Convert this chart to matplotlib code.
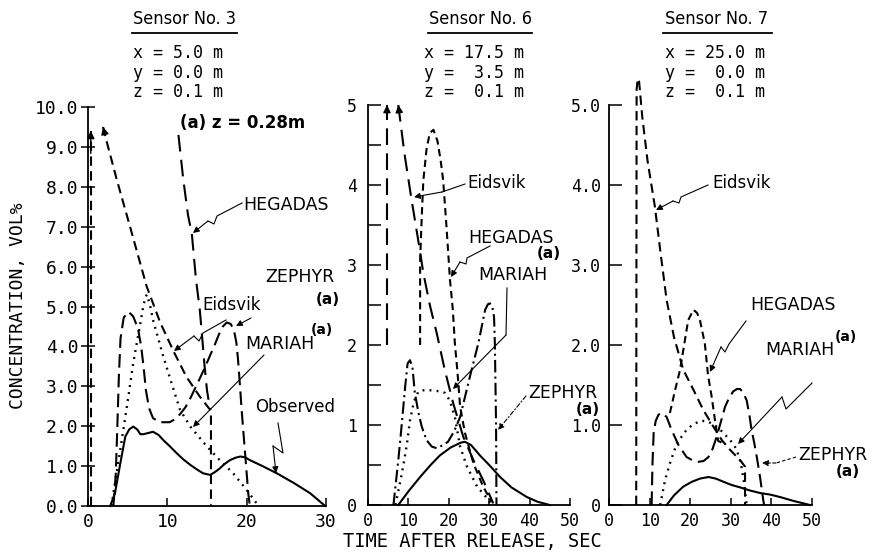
import matplotlib
matplotlib.use('Agg')
import matplotlib.pyplot as plt
from matplotlib.lines import Line2D
from matplotlib.text import Annotation

# ---- dados (tempo em s, concentracao em vol%) ----

# Sensor 3
s3_obs_t = [2.8, 3.4, 4.0, 4.7, 5.2, 5.7, 6.2, 6.6, 7.0, 7.4, 8.2, 8.9, 9.5, 10.3, 11.2, 12.0,
            12.9, 13.7, 14.5, 15.4, 16.0, 16.6, 17.2, 17.9, 18.6, 19.2, 19.8, 20.4, 22.0, 23.8,
            26.0, 28.0, 29.9]
s3_obs_v = [0.0, 0.32, 0.99, 1.74, 1.92, 1.99, 1.92, 1.80, 1.80, 1.82, 1.86, 1.78, 1.65, 1.50,
            1.32, 1.17, 1.03, 0.92, 0.82, 0.78, 0.85, 0.94, 1.05, 1.15, 1.21, 1.24, 1.22, 1.15,
            1.0, 0.82, 0.57, 0.32, 0.0]
s3_zep_t = [3.2, 3.5, 3.7, 3.9, 4.1, 4.5, 5.1, 5.7, 6.3, 6.7, 7.0, 7.3, 7.7, 8.2, 9.1, 10.3,
            11.0, 11.6, 12.3, 12.9, 13.5, 14.1, 14.8, 15.4, 16.0, 16.5, 17.0, 17.5, 18.0, 18.4,
            18.7, 18.9, 19.1, 19.4, 19.8, 20.2, 20.4]
s3_zep_v = [0.0, 0.8, 2.0, 3.3, 4.2, 4.72, 4.87, 4.75, 4.45, 4.0, 3.5, 2.9, 2.45, 2.2, 2.1, 2.1,
            2.18, 2.3, 2.48, 2.7, 2.95, 3.2, 3.5, 3.78, 4.05, 4.3, 4.5, 4.6, 4.56, 4.4, 4.1, 3.7,
            3.16, 2.32, 1.32, 0.32, 0.0]
s3_mar_t = [3.0, 3.2, 4.0, 4.9, 5.7, 6.6, 7.0, 7.4, 7.8, 8.2, 9.5, 10.8, 11.6, 12.9, 15.0, 16.6,
            18.3, 20.0, 21.1, 21.4]
s3_mar_v = [0.0, 0.32, 1.32, 2.49, 3.58, 4.58, 5.05, 5.3, 5.05, 4.66, 3.74, 2.91, 2.41, 1.99,
            1.49, 1.15, 0.82, 0.40, 0.11, 0.0]
s3_eid_up_t = [0.35, 0.35]
s3_eid_up_v = [0.0, 9.4]
s3_eid_t = [1.9, 2.4, 3.6, 5.3, 7.4, 9.1, 10.8, 12.4, 14.1, 15.4, 15.5, 15.5]
s3_eid_v = [9.5, 9.1, 8.2, 7.0, 5.5, 4.6, 3.87, 3.24, 2.74, 2.41, 2.3, 0.0]
s3_heg_t = [11.4, 12.0, 12.6, 13.1, 13.6, 14.1, 14.4, 14.7, 15.0, 15.4]
s3_heg_v = [9.3, 8.2, 7.3, 6.8, 5.7, 4.9, 4.2, 3.5, 2.9, 2.4]

# Sensor 6
s6_obs_t = [7.5, 10.0, 12.9, 15.5, 17.8, 20.5, 23.0, 24.0, 25.5, 27.7, 30.0, 32.7, 35.5, 39.3,
            42.0, 45.0]
s6_obs_v = [0.0, 0.17, 0.35, 0.5, 0.62, 0.72, 0.78, 0.79, 0.75, 0.62, 0.5, 0.35, 0.22, 0.1,
            0.04, 0.0]
s6_mar_t = [6.8, 7.8, 8.7, 9.6, 10.4, 11.4, 12.5, 14.3, 16.2, 18.0, 19.1, 20.3, 21.5, 22.8,
            24.5, 27.0, 29.9, 30.5]
s6_mar_v = [0.0, 0.25, 0.48, 0.75, 1.06, 1.3, 1.42, 1.44, 1.43, 1.42, 1.4, 1.3, 1.1, 0.73, 0.48,
            0.23, 0.06, 0.0]
s6_zep_t = [6.3, 7.5, 8.3, 9.2, 9.8, 10.4, 11.0, 11.6, 12.5, 13.3, 14.5, 15.8, 17.0, 18.6, 19.8,
            21.3, 22.8, 25.2, 27.3, 29.0, 29.7, 30.2, 30.8, 31.2, 31.4, 31.7, 31.8]
s6_zep_v = [0.0, 0.56, 0.98, 1.48, 1.77, 1.81, 1.72, 1.4, 1.15, 0.98, 0.81, 0.73, 0.71, 0.75,
            0.79, 0.92, 1.1, 1.6, 2.02, 2.44, 2.51, 2.52, 2.47, 2.35, 2.02, 1.0, 0.0]
s6_eid_up_t = [4.7, 4.7]
s6_eid_up_v = [2.0, 5.0]
s6_eid_t = [7.5, 9.0, 10.8, 12.3, 13.7, 15.3, 17.0, 19.0, 21.1, 23.6, 26.1, 28.5, 31.0]
s6_eid_v = [5.0, 4.4, 3.81, 3.35, 2.9, 2.5, 2.15, 1.69, 1.27, 0.85, 0.56, 0.31, 0.02]
s6_heg_t = [12.9, 12.9, 13.3, 13.7, 14.5, 15.3, 16.2, 17.2, 18.0, 18.6, 19.4, 20.3, 21.0, 21.5,
            22.1, 22.8, 24.0, 26.1, 28.5, 30.6]
s6_heg_v = [2.0, 3.06, 3.6, 4.06, 4.45, 4.65, 4.69, 4.55, 4.3, 4.06, 3.5, 2.81, 2.44, 2.02, 1.69,
            1.23, 0.9, 0.52, 0.23, 0.04]

# Sensor 7
s7_obs_t = [14.2, 16.0, 18.3, 20.4, 22.4, 24.5, 26.3, 28.2, 30.2, 32.3, 34.8, 37.2, 39.7, 42.1,
            45.5, 49.5]
s7_obs_v = [0.0, 0.12, 0.23, 0.29, 0.33, 0.35, 0.33, 0.29, 0.25, 0.22, 0.18, 0.15, 0.13, 0.1,
            0.05, 0.0]
s7_mar_t = [12.6, 13.8, 15.0, 16.7, 19.1, 20.5, 22.4, 24.0, 25.7, 27.0, 28.2, 30.0, 31.4, 32.5,
            33.2, 33.9]
s7_mar_v = [0.0, 0.31, 0.52, 0.77, 0.94, 1.0, 1.05, 1.05, 1.01, 0.96, 0.9, 0.8, 0.7, 0.52, 0.3,
            0.0]
s7_zep_t = [10.5, 10.7, 11.0, 11.5, 12.2, 13.0, 14.2, 15.4, 17.1, 19.1, 20.5, 22.0, 23.3, 24.5,
            25.5, 26.5, 27.5, 28.6, 29.6, 30.6, 31.5, 32.3, 33.1, 33.9, 34.6, 35.1, 35.8, 36.4,
            37.2, 38.0, 38.2]
s7_zep_v = [0.0, 0.5, 0.9, 1.05, 1.13, 1.15, 1.1, 0.94, 0.75, 0.6, 0.56, 0.54, 0.55, 0.6, 0.7,
            0.85, 1.03, 1.23, 1.34, 1.42, 1.45, 1.45, 1.4, 1.31, 1.12, 0.94, 0.77, 0.6, 0.35,
            0.06, 0.0]
s7_eid_t = [6.7, 6.8, 7.1, 7.4, 8.2, 9.5, 11.3, 12.7, 14.2, 16.0, 18.3, 20.8, 23.2, 25.7, 27.8,
            29.8, 32.3, 33.5, 33.5]
s7_eid_v = [0.0, 5.2, 5.33, 5.3, 4.85, 4.3, 3.73, 3.15, 2.56, 2.1, 1.69, 1.44, 1.19, 0.98, 0.81,
            0.69, 0.56, 0.48, 0.0]
s7_heg_t = [15.0, 16.3, 17.5, 18.7, 19.5, 20.8, 21.7, 22.4, 23.6, 24.4, 25.3, 26.1, 26.9, 27.8]
s7_heg_v = [1.15, 1.44, 1.69, 2.06, 2.31, 2.44, 2.4, 2.31, 2.02, 1.62, 1.35, 1.06, 0.8, 0.78]

# ---- figura ----
W, H = 872, 557
MONO = 'DejaVu Sans Mono'
SANS = 'DejaVu Sans'

fig = plt.figure(figsize=(W / 100, H / 100), dpi=100)


def fx(x):
    return x / W


def fy(y):
    return 1 - y / H


def eixo(x0, x1, y0, y1):
    ax = fig.add_axes([fx(x0), fy(y0), (x1 - x0) / W, (y0 - y1) / H])
    ax.spines['top'].set_visible(False)
    ax.spines['right'].set_visible(False)
    for s in ('left', 'bottom'):
        ax.spines[s].set_linewidth(1.3)
    return ax


ax1 = eixo(88, 326, 506, 107)
ax2 = eixo(368, 570, 505, 105)
ax3 = eixo(609, 812, 505, 105)

# estilos de linha
st_obs = dict(color='k', lw=1.5, ls='-')
st_mar = dict(color='k', lw=1.7, ls=(0, (0.8, 2.2)))
st_eid = dict(color='k', lw=1.5, ls=(0, (4.5, 2.6)))
st_heg_long = dict(color='k', lw=1.5, ls=(0, (8, 4)))
st_heg_short = dict(color='k', lw=1.5, ls=(0, (3.5, 2.2)))
st_zep = dict(color='k', lw=1.5, ls=(0, (6.5, 3)))
st_zep_dd = dict(color='k', lw=1.5, ls=(0, (6, 2, 1, 2)))


def curva(ax, t, v, st):
    ax.plot(t, v, clip_on=False, dash_capstyle='butt', **st)


def ponta(ax, t, v, i0, i1):
    # seta no ponto i0, apontando para longe de i1
    x0, y0 = t[i0], v[i0]
    x1, y1 = t[i1], v[i1]
    ax.annotate('', xy=(x0, y0), xytext=(x0 + 0.06 * (x1 - x0), y0 + 0.06 * (y1 - y0)),
                arrowprops=dict(arrowstyle='-|>', color='k', lw=1, mutation_scale=11,
                                shrinkA=0, shrinkB=0), annotation_clip=False)


curva(ax1, s3_obs_t, s3_obs_v, st_obs)
curva(ax1, s3_zep_t, s3_zep_v, st_zep)
curva(ax1, s3_mar_t, s3_mar_v, st_mar)
curva(ax1, s3_eid_up_t, s3_eid_up_v, st_eid)
curva(ax1, s3_eid_t, s3_eid_v, st_eid)
curva(ax1, s3_heg_t, s3_heg_v, st_heg_long)
ponta(ax1, s3_eid_up_t, s3_eid_up_v, -1, 0)
ponta(ax1, s3_eid_t, s3_eid_v, 0, 1)

curva(ax2, s6_obs_t, s6_obs_v, st_obs)
curva(ax2, s6_mar_t, s6_mar_v, st_mar)
curva(ax2, s6_zep_t, s6_zep_v, st_zep_dd)
curva(ax2, s6_eid_up_t, s6_eid_up_v, st_heg_long)
curva(ax2, s6_eid_t, s6_eid_v, st_heg_long)
curva(ax2, s6_heg_t, s6_heg_v, st_heg_short)
ponta(ax2, s6_eid_up_t, s6_eid_up_v, -1, 0)
ponta(ax2, s6_eid_t, s6_eid_v, 0, 1)

curva(ax3, s7_obs_t, s7_obs_v, st_obs)
curva(ax3, s7_mar_t, s7_mar_v, st_mar)
curva(ax3, s7_zep_t, s7_zep_v, st_zep)
curva(ax3, s7_eid_t, s7_eid_v, st_eid)
curva(ax3, s7_heg_t, s7_heg_v, st_heg_short)

# eixos e ticks
ax1.set_xlim(0, 30)
ax1.set_ylim(0, 10)
ax1.set_xticks([0, 10, 20, 30])
ax1.set_yticks(range(0, 11))
ax1.set_yticklabels([f'{v:.1f}' for v in range(0, 11)])
ax1.tick_params(axis='y', direction='inout', length=10, width=1.1, pad=2, labelsize=13)
ax1.tick_params(axis='x', direction='in', length=6, width=1.1, pad=5, labelsize=13)

ax2.set_xlim(0, 50)
ax2.set_ylim(0, 5)
ax2.set_xticks(range(0, 51, 10))
ax2.set_yticks(range(0, 6))
ax2.set_yticks([0.5, 1.5, 2.5, 3.5, 4.5], minor=True)
ax2.tick_params(axis='y', which='both', direction='in', length=9, width=1.1, pad=8,
                labelsize=12)
ax2.tick_params(axis='x', direction='in', length=5, width=1.1, pad=5, labelsize=12)

ax3.set_xlim(0, 50)
ax3.set_ylim(0, 5)
ax3.set_xticks(range(0, 51, 10))
ax3.set_yticks(range(0, 6))
ax3.set_yticklabels(['0', '1.0', '2.0', '3.0', '4.0', '5.0'])
ax3.tick_params(axis='y', direction='in', length=9, width=1.1, pad=6, labelsize=12)
ax3.tick_params(axis='x', direction='in', length=5, width=1.1, pad=5, labelsize=12)

for ax in (ax1, ax2, ax3):
    for lab in ax.get_xticklabels() + ax.get_yticklabels():
        lab.set_family(MONO)


# textos
def texto(x, y, s, size=12, ha='left', family=SANS, **kw):
    fig.text(fx(x), fy(y), s, ha=ha, va='center', fontsize=size, family=family, **kw)


def sublinhado(x0, x1, y):
    fig.add_artist(Line2D([fx(x0), fx(x1)], [fy(y), fy(y)], color='k', lw=1.3,
                          transform=fig.transFigure))


def guia(pts, ls='-'):
    xs = [fx(p[0]) for p in pts]
    ys = [fy(p[1]) for p in pts]
    if len(pts) > 2:
        fig.add_artist(Line2D(xs[:-1], ys[:-1], color='k', lw=0.8, ls=ls,
                              transform=fig.transFigure))
    seta = Annotation('', xy=(xs[-1], ys[-1]), xycoords='figure fraction',
                      xytext=(xs[-2], ys[-2]), textcoords='figure fraction',
                      arrowprops=dict(arrowstyle='-|>', color='k', lw=0.8, ls=ls,
                                      mutation_scale=9, shrinkA=0, shrinkB=0))
    fig.add_artist(seta)


for cx, x0, x1, nome in [(184, 132, 237, 'Sensor No. 3'), (480, 428, 532, 'Sensor No. 6'),
                         (717, 663, 772, 'Sensor No. 7')]:
    texto(cx, 19, nome, size=13, ha='center', fontstretch='condensed')
    sublinhado(x0, x1, 33)

for x0, linhas in [(133, ['x = 5.0 m', 'y = 0.0 m', 'z = 0.1 m']),
                   (424, ['x = 17.5 m', 'y =  3.5 m', 'z =  0.1 m']),
                   (665, ['x = 25.0 m', 'y =  0.0 m', 'z =  0.1 m'])]:
    for k, s in enumerate(linhas):
        texto(x0, 53 + 19.5 * k, s, size=12, family=MONO)

texto(180, 123, '(a) z = 0.28m', size=12, weight='bold')

# anotacoes sensor 3
texto(243, 205, 'HEGADAS', size=12.5)
guia([(242, 203), (217, 216), (214, 224), (208, 221), (193, 233)])
texto(265, 277, 'ZEPHYR', size=12.5)
texto(316, 300, '(a)', size=11, weight='bold')
texto(202, 305, 'Eidsvik', size=12)
guia([(226, 320), (203, 333), (199, 341), (194, 336), (174, 351)])
guia([(251, 318), (236, 326)])
texto(245, 344, 'MARIAH', size=12.5)
texto(311, 330, '(a)', size=10, weight='bold')
guia([(264, 355), (193, 427)])
texto(255, 407, 'Observed', size=12)
guia([(278, 423), (283, 453), (273, 446), (276, 473)])

# anotacoes sensor 6
texto(467, 183, 'Eidsvik', size=12)
guia([(465, 184), (442, 192), (414, 197)])
texto(468, 238, 'HEGADAS', size=12.5)
guia([(490, 246), (467, 258), (466, 264), (460, 262), (451, 277)])
texto(537, 254, '(a)', size=11, weight='bold')
texto(478, 275, 'MARIAH', size=12.5)
guia([(507, 288), (506, 335), (453, 389)])
texto(528, 393, 'ZEPHYR', size=12.5)
texto(600, 410, '(a)', size=11, ha='right', weight='bold')
guia([(526, 396), (498, 430)], ls=(0, (4, 2, 1, 2)))

# anotacoes sensor 7
texto(712, 183, 'Eidsvik', size=12)
guia([(708, 185), (681, 197), (679, 203), (673, 201), (656, 210)])
texto(750, 305, 'HEGADAS', size=12.5)
guia([(746, 321), (729, 344), (725, 352), (721, 347), (710, 372)])
texto(765, 350, 'MARIAH', size=12.5)
texto(835, 337, '(a)', size=10, weight='bold')
guia([(812, 383), (786, 409), (782, 397), (738, 444)])
texto(798, 455, 'ZEPHYR', size=12.5)
texto(848, 471, '(a)', size=11, ha='center', weight='bold')
guia([(796, 457), (776, 463), (762, 463)], ls=(0, (3, 2)))

# rotulos dos eixos
texto(18, 306, 'CONCENTRATION, VOL%', size=13, ha='center', family=MONO, rotation=90)
texto(472, 541, 'TIME AFTER RELEASE, SEC', size=13.5, ha='center', family=MONO)

fig.savefig('out.png', dpi=100, facecolor='white')
